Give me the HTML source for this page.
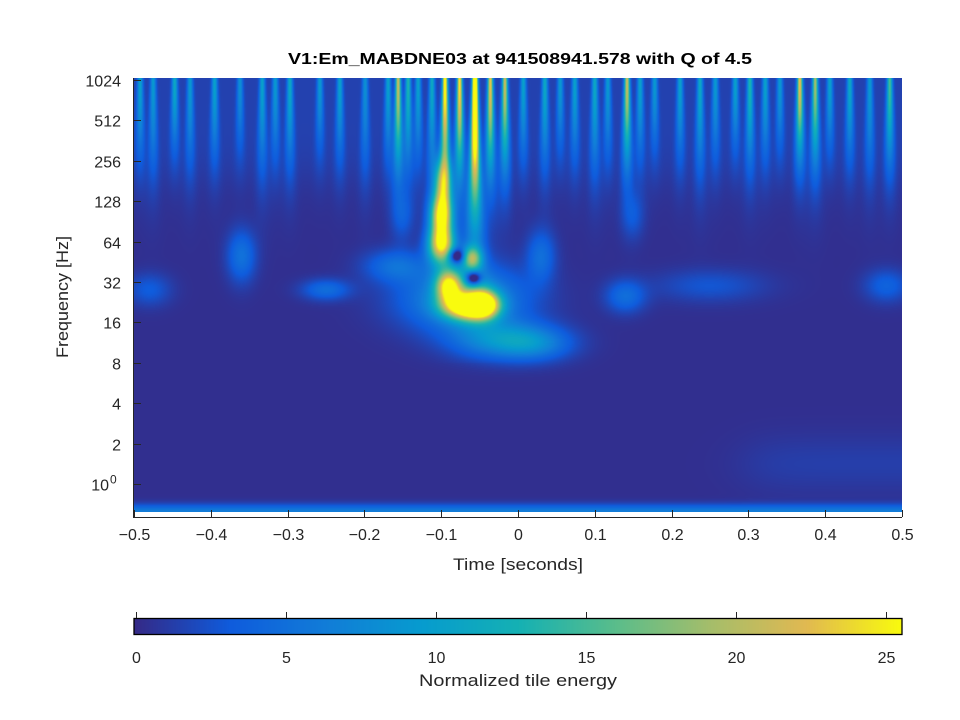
<!DOCTYPE html>
<html><head><meta charset="utf-8"><style>
body{margin:0;background:#fff;width:960px;height:720px;overflow:hidden;font-family:"Liberation Sans",sans-serif;}
#wrap{position:relative;width:960px;height:720px;}
canvas{position:absolute;}
svg{position:absolute;left:0;top:0;}
</style></head><body>
<div id="wrap">
<canvas id="hm" width="768" height="434" style="left:134px;top:78px"></canvas>
<canvas id="cb" width="768" height="16" style="left:134px;top:618px"></canvas>
<svg id="ax" width="960" height="720"></svg>
</div>
<script>
// blob components: time (s), frequency (Hz), energy, time width (s), log2-freq width
const blobT   = [-0.065,-0.09,-0.045,-0.06,-0.1,-0.1,-0.098,-0.07,-0.02,0.02,-0.36,-0.25,-0.16,0.03,0.14,-0.48,0.25,0.48,0.15,-0.15,-0.058,-0.08];
const blobF   = [21,30,22,48,60,100,180,24,12,11,50,28,42,50,25,28,30,30,100,100,34,50];
const blobE   = [25,21,19,14,22,23,15,9,7,5,5,4.5,4.5,4.5,4.5,3,2.5,3.5,2.5,2.5,-13,-11];
const blobST  = [0.022,0.012,0.014,0.009,0.012,0.01,0.008,0.055,0.045,0.035,0.013,0.022,0.028,0.013,0.018,0.02,0.05,0.02,0.01,0.01,0.007,0.007];
const blobSL  = [0.22,0.28,0.24,0.2,0.32,0.38,0.42,0.55,0.33,0.28,0.45,0.18,0.28,0.45,0.28,0.28,0.28,0.28,0.4,0.4,0.12,0.12];
// high-frequency streaks: time (s), energy, lowest frequency reached (Hz)
const streakT = [-0.492,-0.475,-0.447,-0.427,-0.395,-0.362,-0.333,-0.316,-0.297,-0.258,-0.232,-0.199,-0.169,-0.156,-0.143,-0.130,-0.112,-0.095,-0.076,-0.056,-0.036,-0.017,0.007,0.035,0.055,0.074,0.100,0.117,0.142,0.159,0.178,0.211,0.237,0.257,0.283,0.302,0.322,0.341,0.367,0.387,0.406,0.432,0.458,0.484];
const streakE = [9,8,10,8,9,7,9,8,10,8,9,7,9,20,12,9,10,26,24,36,22,20,9,10,8,9,10,8,20,9,8,9,10,8,9,12,9,8,22,18,9,10,8,14];
const streakF = [250,200,300,220,250,300,200,250,220,300,250,200,250,200,220,250,200,150,180,80,180,200,250,220,300,250,200,250,220,250,300,250,200,250,300,220,250,300,250,220,300,250,200,220];
const cbTicks = [0,5,10,15,20,25];
const xTicks = [-0.5,-0.4,-0.3,-0.2,-0.1,0,0.1,0.2,0.3,0.4,0.5];
const xTickLabels = ["\u22120.5","\u22120.4","\u22120.3","\u22120.2","\u22120.1","0","0.1","0.2","0.3","0.4","0.5"];
const yTicks = [1,2,4,8,16,32,64,128,256,512,1024];
const yTickLabels = ["10^0","2","4","8","16","32","64","128","256","512","1024"];
const cMax = 25.6;

const X0=134,X1=902,YB=512,YT=78;
const xs = t => X0 + (t+0.5)*(X1-X0);
const ys = f => 484 - Math.log2(f)*40.4;
const pL = [[53,42,135],[15,92,221],[18,125,216],[7,156,207],[21,177,180],[89,189,140],[165,190,107],[225,185,82],[249,251,14]];
function parula(v){v=Math.max(0,Math.min(1,v));const p=v*8,i=Math.min(7,Math.floor(p)),r=p-i;const a=pL[i],b=pL[i+1];return [a[0]+(b[0]-a[0])*r,a[1]+(b[1]-a[1])*r,a[2]+(b[2]-a[2])*r];}

(function(){
const c=document.getElementById('hm'),ctx=c.getContext('2d'),W=c.width,H=c.height,img=ctx.createImageData(W,H);
const Lb=Math.log2(0.62),Ltop=10.05;
for(let py=0;py<H;py++){
 const L=(484-(YT+py+0.5))/40.4, f=Math.pow(2,L);
 const st=0.0024*Math.sqrt(1024/f);
 for(let px=0;px<W;px++){
  const t=(px+0.5)/W-0.5;
  let e=0.3+1.2/(1+Math.exp(-(L-7.6)/0.35));
  for(let k=0;k<blobT.length;k++){
   const dt=(t-blobT[k])/blobST[k]; if(Math.abs(dt)>4) continue;
   const dl=(L-Math.log2(blobF[k]))/blobSL[k]; if(Math.abs(dl)>4) continue;
   e+=blobE[k]*Math.exp(-0.5*(dt*dt+dl*dl));
  }
  if(L>3){
   for(let k=0;k<streakT.length;k++){
    const dt=(t-streakT[k])/st; if(Math.abs(dt)>4) continue;
    const Lm=Math.log2(streakF[k]);
    const r=(Ltop-L)/(Ltop-Lm);
    const g=Math.exp(-1.4*r*r);
    e+=streakE[k]*g*Math.exp(-0.5*dt*dt);
   }
  }
  e+=6*Math.exp(-Math.pow((L-Lb)/0.18,2));
  e+=1.0/(1+Math.exp(-(t-0.3)/0.02))*Math.exp(-Math.pow((L-0.5)/0.7,2));
  const col=parula(Math.max(0,e)/cMax),o=(py*W+px)*4;
  img.data[o]=col[0];img.data[o+1]=col[1];img.data[o+2]=col[2];img.data[o+3]=255;
 }
}
ctx.putImageData(img,0,0);
const cb=document.getElementById('cb'),cx=cb.getContext('2d');
for(let i=0;i<768;i++){const col=parula(i/767);cx.fillStyle=`rgb(${col[0]|0},${col[1]|0},${col[2]|0})`;cx.fillRect(i,0,1,16);}
})();

(function(){
const s=document.getElementById('ax'),NS='http://www.w3.org/2000/svg';
function mk(tag,at,txt){const e=document.createElementNS(NS,tag);for(const k in at)e.setAttribute(k,at[k]);if(txt!==undefined)e.textContent=txt;s.appendChild(e);return e;}
let e;
e=mk('text',{x:520,y:64,'text-anchor':'middle','font-size':16,'font-weight':'bold',fill:'#000',textLength:464,lengthAdjust:'spacingAndGlyphs'},'V1:Em_MABDNE03 at 941508941.578 with Q of 4.5');


e=mk('line',{x1:133.5,y1:78,x2:133.5,y2:518,stroke:'#262626','stroke-width':1});


e=mk('line',{x1:133,y1:517.5,x2:902,y2:517.5,stroke:'#262626','stroke-width':1});


xTicks.forEach((t,i)=>{const x=Math.round(xs(t))+0.5;
 e=mk('line',{x1:x,y1:510,x2:x,y2:517,stroke:'#262626'});
 
 
 e=mk('text',{x:x,y:540,'text-anchor':'middle','font-size':16,fill:'#262626'},xTickLabels[i]);
 
 
});
yTicks.forEach((f,i)=>{const y=Math.round(ys(f))+0.5;
 e=mk('line',{x1:134,y1:y,x2:141,y2:y,stroke:'#262626'});
 
 
 const lab=yTickLabels[i];
 if(lab.indexOf('^')>0){
  e=mk('text',{x:109,y:y+6,'text-anchor':'end','font-size':16,fill:'#262626'},'10');
  
  
  e=mk('text',{x:110,y:y-1,'font-size':12,fill:'#262626'},lab.split('^')[1]);
  
  
 } else {
  e=mk('text',{x:121,y:y+6,'text-anchor':'end','font-size':16,fill:'#262626'},lab);
  
  
 }
});
e=mk('text',{x:518,y:570,'text-anchor':'middle','font-size':17,fill:'#262626',textLength:130,lengthAdjust:'spacingAndGlyphs'},'Time [seconds]');


e=mk('text',{x:0,y:0,'text-anchor':'middle','font-size':17,fill:'#262626',textLength:122,lengthAdjust:'spacingAndGlyphs',transform:'translate(68,297) rotate(-90)'},'Frequency [Hz]');


e=mk('rect',{x:134,y:618.5,width:768,height:16,fill:'none',stroke:'#000','stroke-width':1.3});


const cx=v=>136+v*30;
cbTicks.forEach(v=>{const x=Math.round(cx(v))+0.5;
 e=mk('line',{x1:x,y1:612,x2:x,y2:618,stroke:'#262626'});
 
 
 e=mk('text',{x:x,y:663,'text-anchor':'middle','font-size':16,fill:'#262626'},String(v));
 
 
});
e=mk('text',{x:518,y:686,'text-anchor':'middle','font-size':17,fill:'#262626',textLength:198,lengthAdjust:'spacingAndGlyphs'},'Normalized tile energy');


})();
</script>
</body></html>
